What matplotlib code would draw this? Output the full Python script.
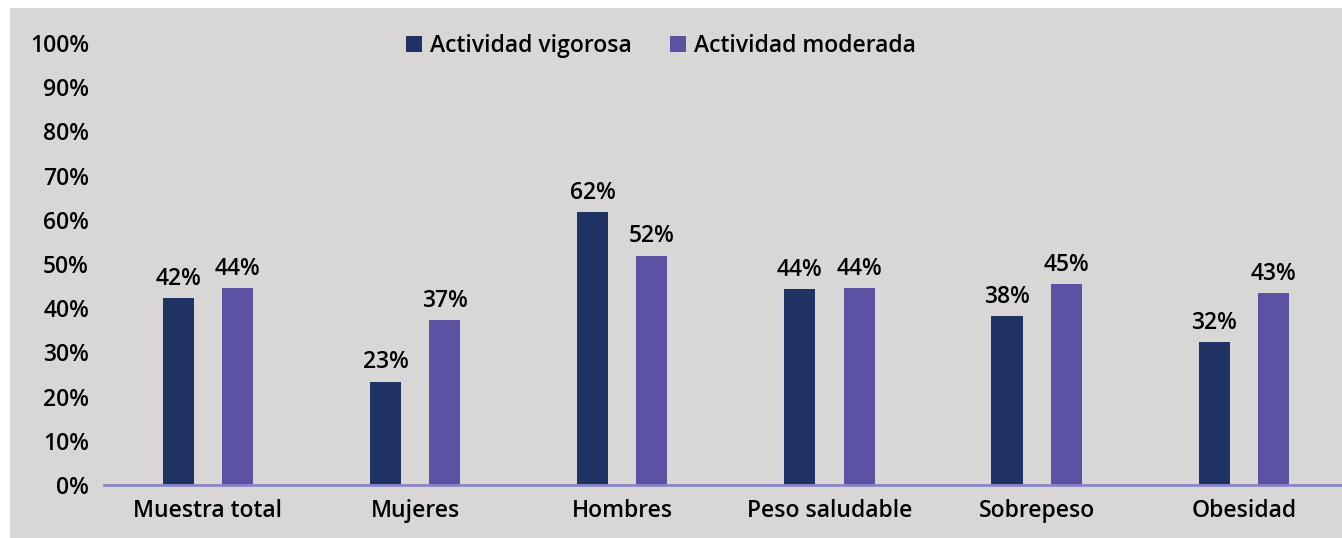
import matplotlib.pyplot as plt
from matplotlib.patches import Rectangle, Patch
import numpy as np

# data
categorias = ['Muestra total', 'Mujeres', 'Hombres', 'Peso saludable', 'Sobrepeso', 'Obesidad']
vigorosa = [42.2, 23.4, 61.8, 44.4, 38.2, 32.3]
moderada = [44.5, 37.3, 51.9, 44.5, 45.4, 43.4]
series = ['Actividad vigorosa', 'Actividad moderada']
yticks = [0, 10, 20, 30, 40, 50, 60, 70, 80, 90, 100]

c_vig = '#1f3264'
c_mod = '#5b52a3'
bg = '#d8d7d6'

plt.rcParams['font.family'] = ['Open Sans', 'DejaVu Sans']
plt.rcParams['font.weight'] = 'semibold'
fs = 16.5

fig = plt.figure(figsize=(13.42, 5.38), dpi=100, facecolor='white')
# gray panel behind the chart
fig.patches.append(Rectangle((10 / 1342, 0), 1 - 10 / 1342, 530 / 538,
                             transform=fig.transFigure, facecolor=bg,
                             edgecolor='none', zorder=-5))

ax = fig.add_axes([104.4 / 1342, 53 / 538, 1243 / 1342, (496 - 53) / 538 * 0.998])
ax.set_facecolor('none')

x = np.arange(len(categorias))
w = 0.15
off = 0.143
b1 = ax.bar(x - off, vigorosa, w, color=c_vig)
b2 = ax.bar(x + off, moderada, w, color=c_mod)

for bars, vals in ((b1, vigorosa), (b2, moderada)):
    for b, v in zip(bars, vals):
        ax.text(b.get_x() + b.get_width() / 2, v + 1.6, f'{round(v)}%',
                ha='center', va='bottom', fontsize=fs, color='black')

ax.set_xlim(-0.5, len(categorias) - 0.5)
ax.set_ylim(0, 100)
ax.set_yticks(yticks)
ax.set_yticklabels([f'{t}%' for t in yticks], fontsize=fs)
ax.set_xticks(x)
ax.set_xticklabels(categorias, fontsize=fs)
ax.tick_params(axis='both', length=0)
ax.tick_params(axis='x', pad=10)
ax.tick_params(axis='y', pad=11)

for s in ['top', 'right', 'left']:
    ax.spines[s].set_visible(False)
ax.spines['bottom'].set_color('#8a86c6')
ax.spines['bottom'].set_linewidth(2)

handles = [Patch(facecolor=c_vig), Patch(facecolor=c_mod)]
ax.legend(handles, series, loc='center left', bbox_to_anchor=(281 / 1243, 0.992), ncol=2,
          frameon=False, fontsize=fs, handlelength=0.7, handleheight=0.7,
          handletextpad=0.35, columnspacing=1.65)

fig.savefig('out.png', dpi=100, facecolor=fig.get_facecolor())
